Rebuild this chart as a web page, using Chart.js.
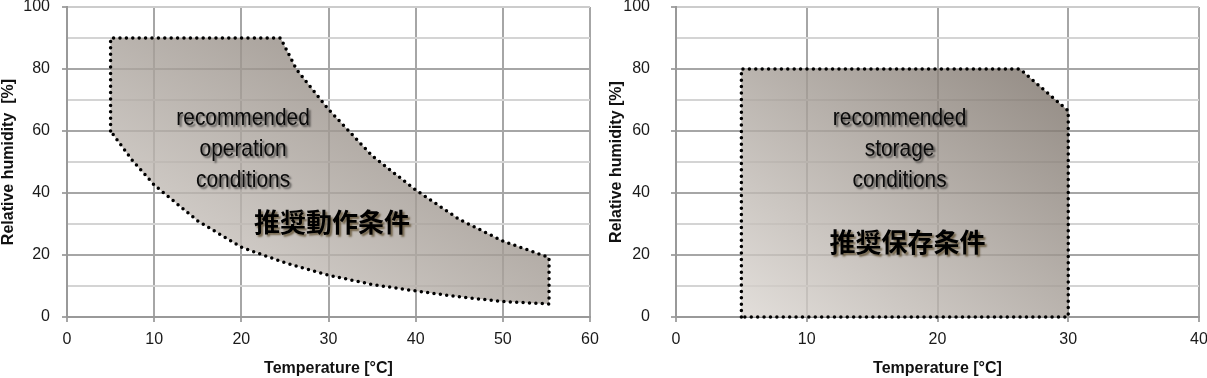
<!DOCTYPE html>
<html><head><meta charset="utf-8">
<script src="https://cdn.jsdelivr.net/npm/chart.js@4.4.0/dist/chart.umd.min.js"></script>
<style>
html,body{margin:0;padding:0;background:#fff;width:1207px;height:378px;overflow:hidden}
canvas{position:absolute;top:0}
#c1{left:0}
#c2{left:604px}
</style></head><body>
<canvas id="c1" width="604" height="378"></canvas>
<canvas id="c2" width="603" height="378"></canvas>
<script>
// Operation area outline (temperature °C, relative humidity %)
const opTemp = [5, 5, 24.5, 26.3, 28, 30, 35, 40, 45, 50, 55.3, 55.3, 50, 45, 40, 35, 30, 25, 20, 15, 10, 7.5, 5];
const opHum  = [60, 90, 90, 80, 74, 67, 52, 41, 31.5, 24.5, 19.2, 4.2, 5, 6.5, 8.4, 10.5, 13.5, 17.5, 22.5, 31, 42.6, 50.5, 60];
// Storage area outline
const stTemp = [5, 5, 26.3, 30, 30, 5];
const stHum  = [0, 80, 80, 66.5, 0, 0];
// Axis ticks
const opXTicks = [0, 10, 20, 30, 40, 50, 60];
const stXTicks = [0, 10, 20, 30, 40];
const yTicks = [0, 20, 40, 60, 80, 100];
// Labels
const opLabelEn = ['recommended', 'operation', 'conditions'];
const opLabelJa = '推奨動作条件';
const stLabelEn = ['recommended', 'storage', 'conditions'];
const stLabelJa = '推奨保存条件';

const FAM = "'Liberation Sans', Arial, sans-serif";
const CJK = "'Noto Sans CJK JP', 'Noto Sans CJK SC', sans-serif";

function pts(xs, ys) { return xs.map((x, i) => ({x, y: ys[i]})); }

// Diagonal gradient in the shape's normalised box (bottom-left light -> top-right dark)
function gradFill(xs, ys, light, dark) {
  return function (c) {
    const chart = c.chart;
    if (!chart.chartArea) return light;
    const sx = chart.scales.x, sy = chart.scales.y;
    const xl = sx.getPixelForValue(Math.min(...xs)), xr = sx.getPixelForValue(Math.max(...xs));
    const yb = sy.getPixelForValue(Math.min(...ys)), yt = sy.getPixelForValue(Math.max(...ys));
    const w = xr - xl, h = yb - yt;
    const k = 2 * w * h / (w * w + h * h);
    const g = chart.ctx.createLinearGradient(xl, yb, xl + k * h, yb - k * w);
    g.addColorStop(0, light);
    g.addColorStop(1, dark);
    return g;
  };
}

const textPlugin = {
  id: 'areaText',
  afterDatasetsDraw(chart, args, opts) {
    const {ctx} = chart;
    const sx = chart.scales.x, sy = chart.scales.y;
    (opts.items || []).forEach(it => {
      const px = sx.getPixelForValue(it.x);
      it.lines.forEach((ln, i) => {
        const py = sy.getPixelForValue(it.y - i * it.step);
        ctx.save();
        ctx.translate(px, py);
        ctx.scale(it.sx, 1);
        ctx.font = it.font;
        ctx.fillStyle = it.color;
        ctx.textAlign = 'center';
        ctx.textBaseline = 'middle';
        ctx.shadowColor = it.shadow;
        ctx.shadowOffsetX = 2;
        ctx.shadowOffsetY = 2;
        ctx.shadowBlur = 2;
        ctx.fillText(ln, 0, 0);
        ctx.restore();
      });
    });
  }
};

function makeChart(id, xs, ys, xMax, xTicks, yWidth, yPad, yTitle, titlePadTop, padRight, textItems) {
  return new Chart(document.getElementById(id), {
    type: 'scatter',
    data: {
      datasets: [{
        data: pts(xs, ys),
        showLine: true,
        fill: 'shape',
        backgroundColor: gradFill(xs, ys, 'rgba(219,214,209,0.8)', 'rgba(119,109,100,0.8)'),
        borderColor: '#000',
        borderWidth: 3.5,
        borderDash: [0, 6.4],
        borderCapStyle: 'round',
        borderJoinStyle: 'round',
        pointRadius: 0,
        tension: 0,
        clip: false
      }]
    },
    options: {
      responsive: false,
      animation: false,
      events: [],
      layout: {padding: {top: 7, right: padRight, bottom: 0, left: 0}},
      plugins: {
        legend: {display: false},
        tooltip: {enabled: false},
        areaText: {items: textItems}
      },
      scales: {
        x: {
          type: 'linear', min: 0, max: xMax,
          afterFit(s) { s.height = 61; s.paddingLeft = 0; s.paddingRight = 0; },
          afterBuildTicks(s) { s.ticks = xTicks.map(v => ({value: v})); },
          ticks: {padding: 8, autoSkip: false, maxRotation: 0, color: '#1a1a1a', font: {family: FAM, size: 16}},
          grid: {color: '#a6a6a6', lineWidth: 2, tickLength: 5, tickColor: '#a6a6a6'},
          border: {color: '#999999', width: 2},
          title: {display: true, text: 'Temperature [°C]', color: '#111', padding: {top: 0, bottom: 1.5},
                  font: {family: FAM, size: 16, weight: 'bold', lineHeight: 1}}
        },
        y: {
          min: 0, max: 100,
          afterFit(s) { s.width = yWidth; s.paddingTop = 0; s.paddingBottom = 0; },
          afterBuildTicks(s) {
            const t = [];
            for (let v = 0; v <= 100; v += 10) t.push({value: v});
            s.ticks = t;
          },
          ticks: {
            padding: yPad, autoSkip: false, color: '#1a1a1a', font: {family: FAM, size: 16},
            callback: v => yTicks.includes(v) ? String(v) : ''
          },
          grid: {
            lineWidth: 2, tickLength: 5,
            color: c => c.tick.value === 100 ? '#cccccc' : (yTicks.includes(c.tick.value) ? '#a6a6a6' : '#d4d4d4'),
            tickColor: c => yTicks.includes(c.tick.value) ? '#a6a6a6' : 'rgba(0,0,0,0)'
          },
          border: {color: '#999999', width: 2},
          title: {display: true, text: yTitle, color: '#111', padding: {top: titlePadTop, bottom: 0},
                  font: {family: FAM, size: 16, weight: 'bold', lineHeight: 1}}
        }
      }
    },
    plugins: [textPlugin]
  });
}

makeChart('c1', opTemp, opHum, 60, opXTicks, 67, 12, 'Relative humidity  [%]', 1, 14, [
  {lines: opLabelEn, x: 20.2, y: 64, step: 10, sx: 0.87, font: `24px ${FAM}`, color: '#0a0a0a', shadow: 'rgba(0,0,0,0.55)'},
  {lines: [opLabelJa], x: 30.4, y: 30.6, step: 0, sx: 1, font: `bold 26px ${CJK}`, color: '#000', shadow: 'rgba(60,40,0,0.6)'}
]);
makeChart('c2', stTemp, stHum, 40, stXTicks, 72, 21, 'Relative humidity [%]', 5, 8, [
  {lines: stLabelEn, x: 17.1, y: 64, step: 10, sx: 0.87, font: `24px ${FAM}`, color: '#0a0a0a', shadow: 'rgba(0,0,0,0.55)'},
  {lines: [stLabelJa], x: 17.7, y: 24.2, step: 0, sx: 1, font: `bold 26px ${CJK}`, color: '#000', shadow: 'rgba(60,40,0,0.6)'}
]);
</script>
</body></html>
